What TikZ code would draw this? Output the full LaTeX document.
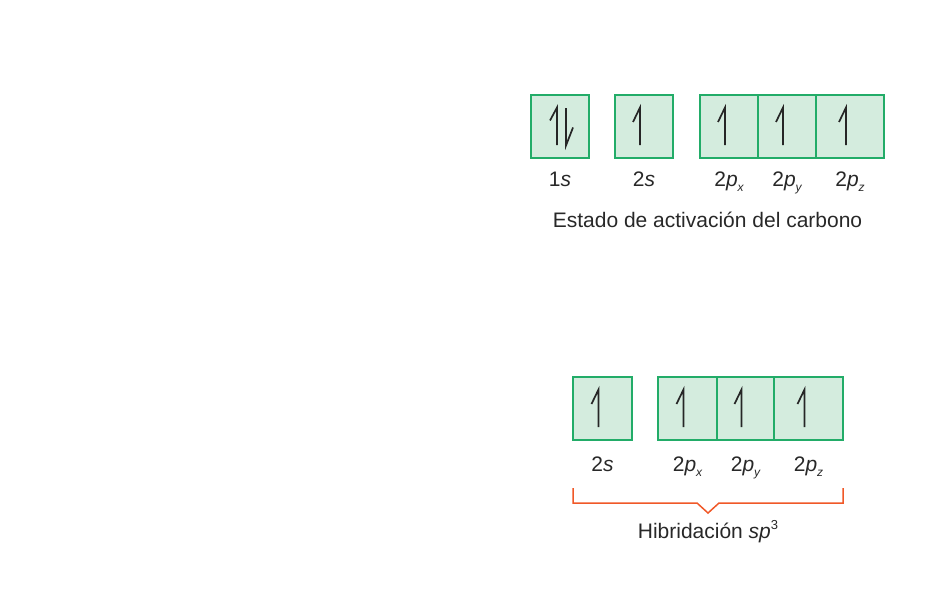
\documentclass[tikz,border=0pt]{standalone}
\usepackage{fontspec}
\setmainfont{Liberation Sans}
\usepackage{xcolor}
\usetikzlibrary{positioning,calc}

\definecolor{boxgreen}{RGB}{34,172,104}
\definecolor{boxfill}{RGB}{212,236,222}
\definecolor{bracketred}{RGB}{240,88,40}
\definecolor{inkgray}{RGB}{40,40,40}

% electron spins inside an orbital box
\newcommand{\spinup}[1]{\draw[spin] ($(#1)+(-4,18.5)$) -- ++(0,-37.5) -- ++(-7,14.5);}
% small italic subscript / superscript
\newcommand{\sub}[1]{\raisebox{-5pt}{\fontsize{12}{12}\selectfont\itshape #1}}
\newcommand{\supr}[1]{\raisebox{9pt}{\fontsize{13}{13}\selectfont #1}}

\begin{document}
\begin{tikzpicture}[
    x=1pt, y=-1pt,
    node distance=26pt,
    orbital/.style={rectangle, draw=boxgreen, fill=boxfill, line width=1.6pt, minimum height=63pt, minimum width=58pt, inner sep=0pt, outer sep=0pt},
    spin/.style={draw=black!85, line width=1.7pt, line join=miter},
    lbl/.style={font=\fontsize{21}{25}\selectfont, text=inkgray, inner sep=0pt, anchor=base},
    bracket/.style={draw=bracketred, line width=1.5pt}
]
\useasboundingbox (0,0) rectangle (950,608);

% Estado de activacion
\node [orbital] (o1s) at (560,126.5) {};
\node [orbital, right=of o1s] (o2s) {};
\node [orbital, right=27pt of o2s] (o2px) {};
\node [orbital, right=0pt of o2px] (o2py) {};
\node [orbital, right=0pt of o2py, minimum width=68pt] (o2pz) {};

\draw[spin] ($(o1s)+(-3,18.5)$) -- ++(0,-37.5) -- ++(-7,13);
\draw[spin] ($(o1s)+(6,-18.5)$) -- ++(0,37.5) -- ++(7,-18);
\spinup{o2s}
\spinup{o2px}
\spinup{o2py}
\spinup{o2pz}

\node [lbl] (l1s) at ($(o1s.south)+(0,28)$) {1\textit{s}};
\node [lbl] (l2s) at ($(o2s.south)+(0,28)$) {2\textit{s}};
\node [lbl] (l2px) at ($(o2px.south)+(0,28)$) {2\textit{p}\sub{x}};
\node [lbl] (l2py) at ($(o2py.south)+(0,28)$) {2\textit{p}\sub{y}};
\node [lbl] (l2pz) at ($(o2pz.south)+(0,28)$) {2\textit{p}\sub{z}};
\node [lbl] (estado) at (707.5,227.5) {Estado de activación del carbono};

% Hibridacion sp3
\node [orbital, minimum width=59pt] (h2s) at (602.5,408.5) {};
\node [orbital, right=of h2s, minimum width=59pt] (h2px) {};
\node [orbital, right=0pt of h2px, minimum width=57pt] (h2py) {};
\node [orbital, right=0pt of h2py, minimum width=69pt] (h2pz) {};

\spinup{h2s}
\spinup{h2px}
\spinup{h2py}
\spinup{h2pz}

\node [lbl] (m2s) at ($(h2s.south)+(0,31)$) {2\textit{s}};
\node [lbl] (m2px) at ($(h2px.south)+(0,31)$) {2\textit{p}\sub{x}};
\node [lbl] (m2py) at ($(h2py.south)+(0,31)$) {2\textit{p}\sub{y}};
\node [lbl] (m2pz) at ($(h2pz.south)+(0,31)$) {2\textit{p}\sub{z}};

\coordinate (apex) at ($(h2s.south west)!0.5!(h2pz.south east)+(0,73)$);
\path [bracket] ($(h2s.south west)+(0,48)$) -- ++(0,15) -| ($(apex)+(-11,-10)$) -- (apex) -- ($(apex)+(11,-10)$) -| ($(h2pz.south east)+(0,48)$);
\node [lbl] (hibrid) at ($(apex)+(0,25)$) {Hibridación \textit{sp}\supr{3}};

\end{tikzpicture}
\end{document}
